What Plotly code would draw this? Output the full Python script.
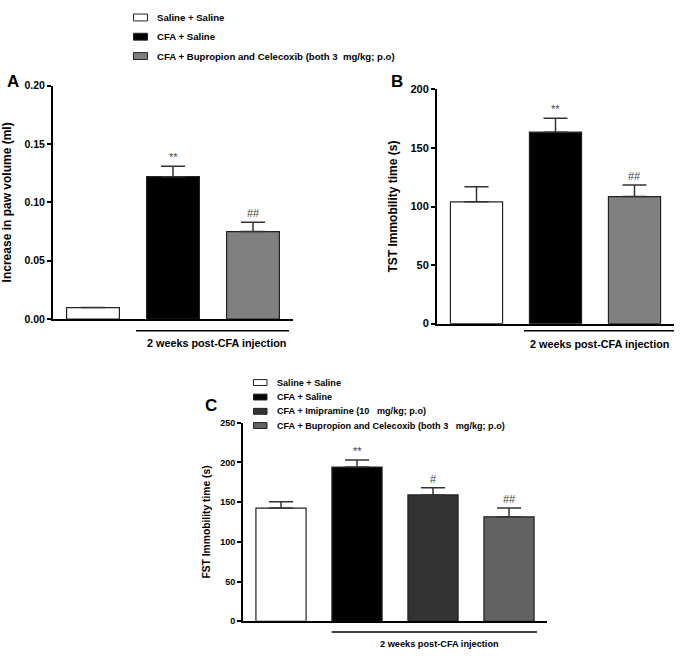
import plotly.graph_objects as go

W, H = 683, 661

# ---------------- data ----------------
groups_ab = ["Saline + Saline", "CFA + Saline",
             "CFA + Bupropion and Celecoxib (both 3  mg/kg; p.o)"]
paw_mean = [0.010, 0.122, 0.075]
paw_sem = [0.0, 0.009, 0.008]
paw_sig = ["", "**", "##"]

tst_mean = [104, 163.5, 108.5]
tst_sem = [13, 12, 10]
tst_sig = ["", "**", "##"]

groups_c = ["Saline + Saline", "CFA + Saline", "CFA + Imipramine (10   mg/kg; p.o)",
            "CFA + Bupropion and Celecoxib (both 3   mg/kg; p.o)"]
fst_mean = [142.5, 194, 159, 131.5]
fst_sem = [8, 9, 9, 11]
fst_sig = ["", "**", "#", "##"]

colors_ab = ["#ffffff", "#000000", "#808080"]
colors_c = ["#ffffff", "#000000", "#333333", "#626262"]

FONT = "Arial, Liberation Sans, sans-serif"


def px_x(p):
    return p / W


def px_y(p):
    return 1 - p / H


fig = go.Figure()


def add_panel(xa, ya, means, sems, sigs, colors):
    xs = list(range(len(means)))
    fig.add_trace(go.Bar(
        x=xs, y=means, width=0.66,
        marker=dict(color=colors, line=dict(color="#222222", width=1.2)),
        error_y=dict(type="data", symmetric=False, array=sems,
                     arrayminus=[0] * len(sems), color="#333333",
                     thickness=1.5, width=12),
        xaxis=xa, yaxis=ya, showlegend=False))
    for i, (m, s, t) in enumerate(zip(means, sems, sigs)):
        if t:
            fig.add_annotation(x=i, y=m + s, xref=xa, yref=ya, text=t,
                               showarrow=False, yanchor="bottom", yshift=1,
                               font=dict(family=FONT, size=11, color="#444444"))


add_panel("x", "y", paw_mean, paw_sem, paw_sig, colors_ab)
add_panel("x2", "y2", tst_mean, tst_sem, tst_sig, colors_ab)
add_panel("x3", "y3", fst_mean, fst_sem, fst_sig, colors_c)

xcommon = dict(showline=True, linecolor="black", linewidth=2, ticks="",
               showticklabels=False, showgrid=False, zeroline=False, fixedrange=True)
ycommon = dict(showline=True, linecolor="black", linewidth=2, ticks="outside",
               ticklen=4, tickwidth=1.5, tickcolor="black", showgrid=False,
               zeroline=False)

fig.update_layout(
    width=W, height=H, margin=dict(l=0, r=0, t=0, b=0),
    paper_bgcolor="white", plot_bgcolor="white",
    font=dict(family=FONT, color="black"),
    xaxis=dict(domain=[px_x(53), px_x(293)], range=[-0.5, 2.5], anchor="y", **xcommon),
    yaxis=dict(domain=[px_y(319), px_y(81)], range=[0, 0.2], anchor="x",
               tickvals=[0, 0.05, 0.10, 0.15, 0.20],
               ticktext=["0.00", "0.05", "0.10", "0.15", "0.20"],
               tickfont=dict(size=10.5, family=FONT, weight="bold"),
               title=dict(text="<b>Increase in paw volume (ml)</b>",
                          font=dict(size=12), standoff=10), **ycommon),
    xaxis2=dict(domain=[px_x(437), px_x(674)], range=[-0.5, 2.5], anchor="y2", **xcommon),
    yaxis2=dict(domain=[px_y(323.5), px_y(85)], range=[0, 200], anchor="x2",
                tickvals=[0, 50, 100, 150, 200],
                tickfont=dict(size=11, family=FONT, weight="bold"),
                title=dict(text="<b>TST Immobility time (s)</b>",
                           font=dict(size=12), standoff=10), **ycommon),
    xaxis3=dict(domain=[px_x(243), px_x(547)], range=[-0.5, 3.5], anchor="y3", **xcommon),
    yaxis3=dict(domain=[px_y(626.7), px_y(424.3)], range=[0, 250], anchor="x3",
                tickvals=[0, 50, 100, 150, 200, 250],
                tickfont=dict(size=9, family=FONT, weight="bold"),
                title=dict(text="<b>FST Immobility time (s)</b>",
                           font=dict(size=10.3), standoff=8), **ycommon),
)

shapes = []
annots = []

# underlines and group labels
for (x0, x1, y, ty, cx, fs) in [(136, 289, 330.7, 343.7, 216, 10.8),
                                (524, 674, 330.7, 344.3, 599.5, 10.8),
                                (331.7, 537, 637.7, 649.3, 439, 9.2)]:
    shapes.append(dict(type="line", xref="paper", yref="paper",
                       x0=px_x(x0), x1=px_x(x1), y0=px_y(y), y1=px_y(y),
                       line=dict(color="black", width=1.5)))
    annots.append(dict(xref="paper", yref="paper", x=px_x(cx), y=px_y(ty),
                       text="<b>2 weeks post-CFA injection</b>", showarrow=False,
                       xanchor="center", yanchor="middle",
                       font=dict(family=FONT, size=fs, color="black")))

# panel letters
for letter, x, y, fs in [("A", 13, 77, 17), ("B", 397, 77, 17), ("C", 211, 407, 17)]:
    annots.append(dict(xref="paper", yref="paper", x=px_x(x), y=px_y(y),
                       text="<b>%s</b>" % letter, showarrow=False,
                       xanchor="center", yanchor="middle",
                       font=dict(family=FONT, size=fs, color="black")))

# top legend
for i, (name, col) in enumerate(zip(groups_ab, colors_ab)):
    yc = [11.7, 31.3, 51][i]
    shapes.append(dict(type="rect", xref="paper", yref="paper",
                       x0=px_x(133.5), x1=px_x(147.5), y0=px_y(yc - 3.5), y1=px_y(yc + 3.5),
                       fillcolor=col, line=dict(color="#222222", width=1)))
    annots.append(dict(xref="paper", yref="paper", x=px_x(154.5), y=px_y(yc),
                       text="<b>%s</b>" % name, showarrow=False,
                       xanchor="left", yanchor="middle",
                       font=dict(family=FONT, size=9.6, color="black")))

# panel C legend
for i, (name, col) in enumerate(zip(groups_c, colors_c)):
    yc = [383.5, 398.3, 412.8, 427.3][i]
    shapes.append(dict(type="rect", xref="paper", yref="paper",
                       x0=px_x(253.5), x1=px_x(267), y0=px_y(yc - 3), y1=px_y(yc + 3),
                       fillcolor=col, line=dict(color="#222222", width=1)))
    annots.append(dict(xref="paper", yref="paper", x=px_x(274.5), y=px_y(yc),
                       text="<b>%s</b>" % name, showarrow=False,
                       xanchor="left", yanchor="middle",
                       font=dict(family=FONT, size=9.1, color="black")))

fig.update_layout(shapes=shapes, annotations=list(fig.layout.annotations) + annots)

fig.write_html(
    "out.html",
    config={"displayModeBar": False},
    post_script=("document.documentElement.style.margin='0px';"
                 "document.body.style.margin='0px';"
                 "document.body.style.overflow='hidden';"
                 "document.documentElement.style.overflow='hidden';"),
)
